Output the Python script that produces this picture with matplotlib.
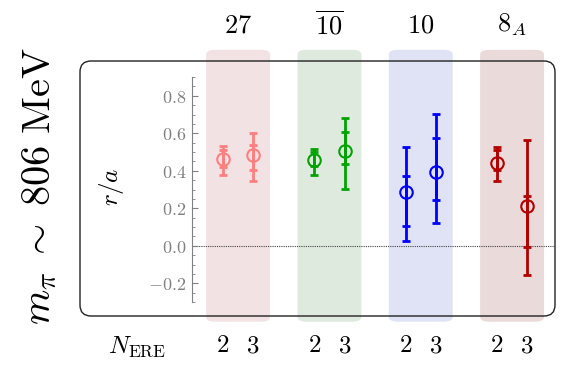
import matplotlib.pyplot as plt
import numpy as np
from matplotlib.patches import FancyBboxPatch

plt.rcParams['mathtext.fontset'] = 'cm'
plt.rcParams['font.family'] = 'serif'
plt.rcParams['font.serif'] = ['DejaVu Serif']

#===Data===#
IRREPS = [r'$27$', r'$\overline{10}$', r'$10$', r'$8_A$']
N_ERE = ['2', '3']
COLORS = ['#ff7f7f', '#00a300', '#0000ff', '#b30000']
BAND_COLORS = ['#f3e2e3', '#dfeadf', '#dfe3f5', '#eadada']

# r/a for N_ERE = 2, 3 in each irrep
CENTER = [[0.462, 0.484], [0.455, 0.503], [0.286, 0.391], [0.444, 0.210]]
STAT_LO = [[0.420, 0.405], [0.428, 0.437], [0.103, 0.245], [0.405, -0.007]]
STAT_HI = [[0.510, 0.540], [0.498, 0.608], [0.373, 0.574], [0.510, 0.263]]
TOT_LO = [[0.380, 0.347], [0.377, 0.304], [0.023, 0.121], [0.343, -0.155]]
TOT_HI = [[0.530, 0.600], [0.516, 0.683], [0.526, 0.702], [0.526, 0.562]]

W, H = 561, 368
fig = plt.figure(figsize=(W / 100, H / 100), dpi=100)

def fx(px):
    return px / W

def fy(py):
    return 1 - py / H

# axes: x pixels 192..555, y pixels 77..302
ax = fig.add_axes([fx(192), fy(302), fx(555) - fx(192), fy(77) - fy(302)])
ax.set_xlim(-0.505, 3.47)
ax.set_ylim(-0.3, 0.9)

# rounded frame round everything
frame = FancyBboxPatch((80, H - 316), 475, 255, boxstyle='round,pad=0,rounding_size=11',
                       transform=None, fill=False, edgecolor='#222222', linewidth=1.0,
                       zorder=0)
fig.patches.append(frame)

offset = 0.165
for i in range(4):
    ax.add_patch(FancyBboxPatch((i - 0.35, -0.405), 0.70, 1.45,
                                boxstyle='round,pad=0,rounding_size=0.1',
                                mutation_aspect=0.25,
                                facecolor=BAND_COLORS[i], edgecolor='none',
                                clip_on=False, zorder=0))
    for j in range(2):
        x = i + (2 * j - 1) * offset
        c = CENTER[i][j]
        ax.errorbar([x], [c], yerr=[[c - TOT_LO[i][j]], [TOT_HI[i][j] - c]],
                    fmt='none', ecolor=COLORS[i], elinewidth=2, capsize=2.7,
                    capthick=2, zorder=3)
        ax.errorbar([x], [c], yerr=[[c - STAT_LO[i][j]], [STAT_HI[i][j] - c]],
                    fmt='none', ecolor=COLORS[i], elinewidth=2, capsize=2.7,
                    capthick=2, zorder=3)
        ax.plot([x], [c], 'o', markersize=9, markerfacecolor='none',
                markeredgecolor=COLORS[i], markeredgewidth=1.5, zorder=4)
        fig.text(fx(192) + (fx(555) - fx(192)) * (x + 0.505) / 3.975, fy(346),
                 '$' + N_ERE[j] + '$', ha='center', va='center', fontsize=18)
    fig.text(fx(192) + (fx(555) - fx(192)) * (i + 0.505) / 3.975, fy(25),
             IRREPS[i], ha='center', va='center', fontsize=19)

ax.axhline(0, color='#444444', linestyle=(0, (1, 1)), linewidth=0.8, zorder=1)

ax.patch.set_visible(False)
for s in ['top', 'right', 'bottom']:
    ax.spines[s].set_visible(False)
ax.spines['left'].set_color('#808080')
ax.spines['left'].set_bounds(-0.3, 0.9)
ax.set_xticks([])
ax.set_yticks([-0.2, 0.0, 0.2, 0.4, 0.6, 0.8])
ax.set_yticklabels([r'$-0.2$', r'$0.0$', r'$0.2$', r'$0.4$', r'$0.6$', r'$0.8$'])
ax.set_yticks(np.arange(-0.3, 0.91, 0.05), minor=True)
ax.tick_params(axis='y', which='major', direction='in', length=4, color='#808080',
               labelcolor='#808080', labelsize=13, pad=4)
ax.tick_params(axis='y', which='minor', direction='in', length=2.5, color='#808080')

fig.text(fx(112), fy(187), r'$r/a$', rotation=90, ha='center', va='center', fontsize=18)
fig.text(fx(137), fy(347), r'$N_{\rm ERE}$', ha='center', va='center', fontsize=18)
fig.text(fx(40), fy(186), r'$m_\pi\;\sim\;806\ {\rm MeV}$', rotation=90, ha='center',
         va='center', fontsize=29)

fig.savefig('out.png', dpi=100)
